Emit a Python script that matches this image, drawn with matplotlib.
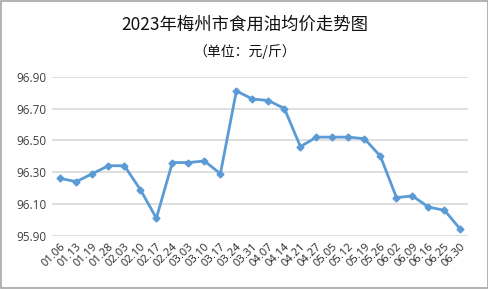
import matplotlib
matplotlib.use("Agg")
import matplotlib.pyplot as plt
from matplotlib.patches import Rectangle

dates = ["01.06", "01.13", "01.19", "01.28", "02.03", "02.10", "02.17", "02.24",
         "03.03", "03.10", "03.17", "03.24", "03.31", "04.07", "04.14", "04.21",
         "04.27", "05.05", "05.12", "05.19", "05.26", "06.02", "06.09", "06.16",
         "06.25", "06.30"]
prices = [96.26, 96.24, 96.29, 96.34, 96.34, 96.19, 96.01, 96.36, 96.36, 96.37,
          96.29, 96.81, 96.76, 96.75, 96.70, 96.46, 96.52, 96.52, 96.52, 96.51,
          96.40, 96.14, 96.15, 96.08, 96.06, 95.94]
yticks = [95.90, 96.10, 96.30, 96.50, 96.70, 96.90]

plt.rcParams['font.family'] = ['Noto Sans CJK SC', 'DejaVu Sans']

fig = plt.figure(figsize=(4.89, 2.89), dpi=100)
ax = fig.add_axes([0.107, 0.1844, 0.851, 0.5502])

x = list(range(len(dates)))
ax.plot(x, prices, color='#5B9BD5', lw=2, marker='D', markersize=3.5,
        markerfacecolor='#5B9BD5', markeredgecolor='#5B9BD5', zorder=3)

ax.set_xlim(-0.5, len(dates) - 0.5)
ax.set_ylim(95.90, 96.90)
ax.set_yticks(yticks)
ax.set_yticklabels([f"{v:.2f}" for v in yticks], family=['Open Sans'], fontsize=8.5, color='#404040')
ax.set_xticks(x)
ax.set_xticklabels(dates, rotation=45, ha='right', rotation_mode='anchor',
                   family=['Open Sans'], fontsize=8, color='#262626')
ax.tick_params(axis='both', length=0, pad=4)
ax.tick_params(axis='x', pad=4)
ax.grid(axis='y', color='#D9D9D9', lw=1.2)
ax.set_axisbelow(True)
for s in ax.spines.values():
    s.set_visible(False)

fig.text(0.5, 0.915, "2023年梅州市食用油均价走势图", ha='center', va='center',
         fontsize=12.5, color='#111111', fontweight='medium')
fig.text(0.5, 0.82, "（单位：元/斤）", ha='center', va='center',
         fontsize=10, color='#111111')

fig.patches.append(Rectangle((0.003, 0.005), 0.994, 0.99, transform=fig.transFigure,
                             fill=False, edgecolor='#A6A6A6', lw=1.2))

fig.savefig("out.png", dpi=100)
